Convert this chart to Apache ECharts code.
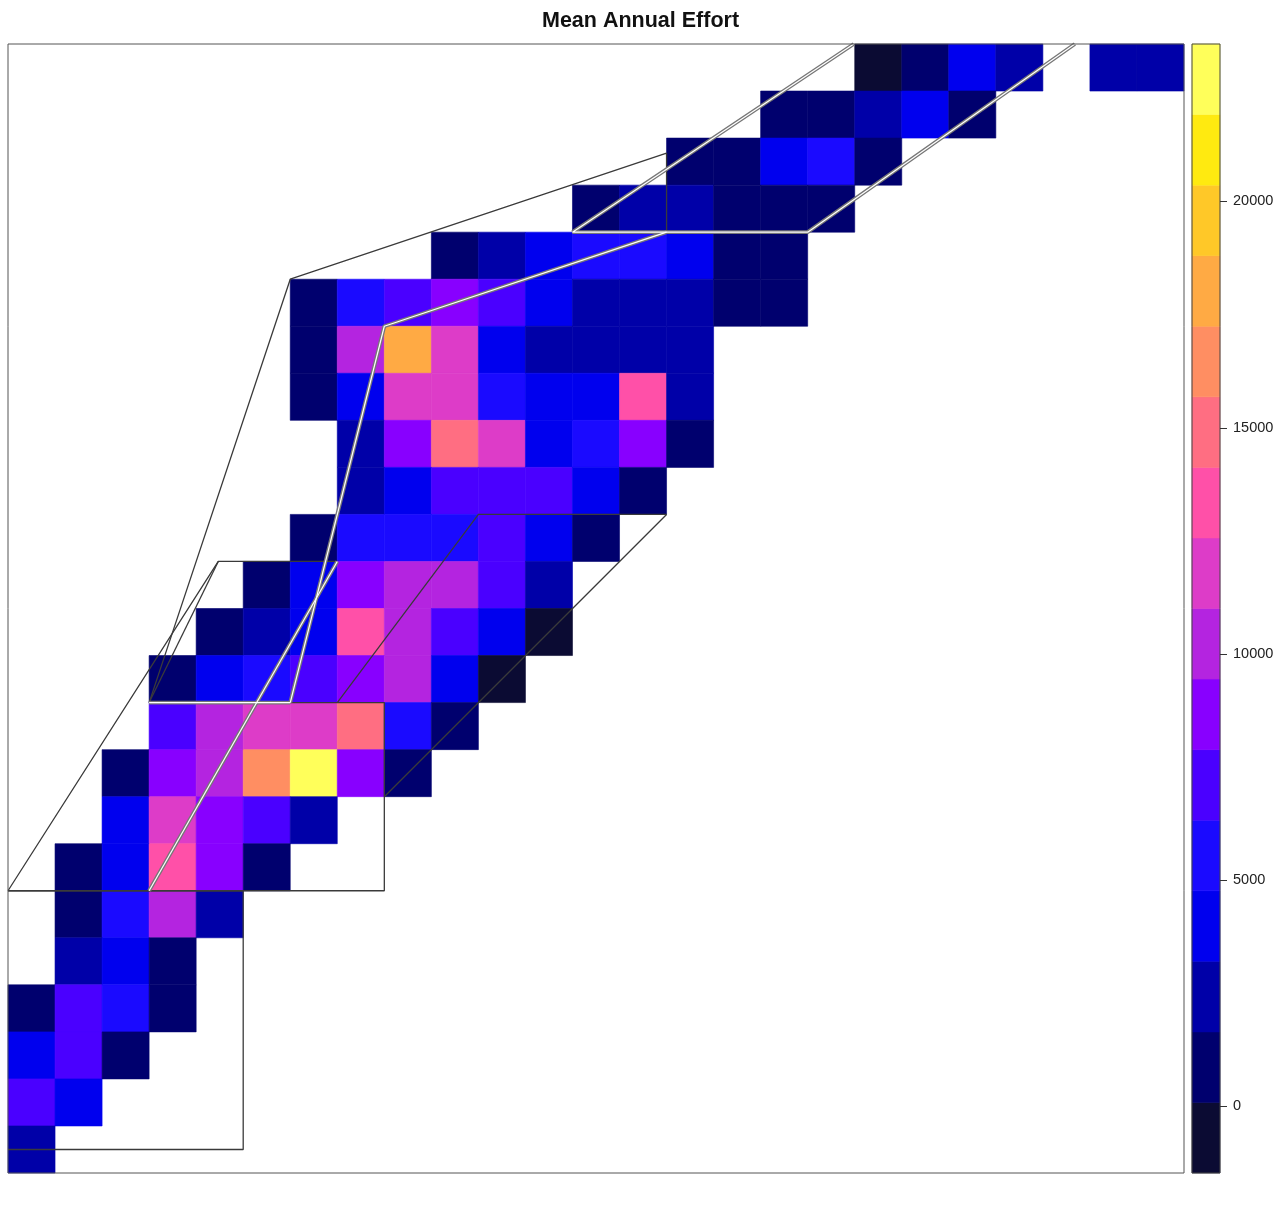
<!DOCTYPE html>
<html><head><meta charset="utf-8">
<script src="https://cdn.jsdelivr.net/npm/echarts@6/dist/echarts.min.js"></script>
<style>html,body{margin:0;padding:0;background:#fff}#c{width:1287px;height:1207px}</style>
</head><body><div id="c"></div>
<script>
const _ = null;
const chartTitle = 'Mean Annual Effort';
const nCols = 25, nRows = 24;
// Mean annual effort per grid cell, rows listed from top to bottom, 25 columns each
const r00 = [_,_,_,_,_,_,_,_,_,_,_,_,_,_,_,_,_,_,40,820,3950,2380,_,2250,2400];
const r01 = [_,_,_,_,_,_,_,_,_,_,_,_,_,_,_,_,700,760,2300,4100,850,_,_,_,_];
const r02 = [_,_,_,_,_,_,_,_,_,_,_,_,_,_,900,780,4300,5200,830,_,_,_,_,_,_];
const r03 = [_,_,_,_,_,_,_,_,_,_,_,_,650,2200,2600,900,870,820,_,_,_,_,_,_,_];
const r04 = [_,_,_,_,_,_,_,_,_,560,2050,4000,5350,5500,4450,800,760,_,_,_,_,_,_,_,_];
const r05 = [_,_,_,_,_,_,720,5300,7000,8700,6900,4200,2500,2450,2350,850,800,_,_,_,_,_,_,_,_];
const r06 = [_,_,_,_,_,_,760,10300,18100,11900,4050,2500,2450,2550,2400,_,_,_,_,_,_,_,_,_,_];
const r07 = [_,_,_,_,_,_,740,3950,11850,12000,5400,4100,4000,13400,2450,_,_,_,_,_,_,_,_,_,_];
const r08 = [_,_,_,_,_,_,_,2300,8600,15000,12200,4000,5300,8800,700,_,_,_,_,_,_,_,_,_,_];
const r09 = [_,_,_,_,_,_,_,2150,4000,7100,7200,7000,4300,780,_,_,_,_,_,_,_,_,_,_,_];
const r10 = [_,_,_,_,_,_,650,5500,5600,5450,7300,4150,780,_,_,_,_,_,_,_,_,_,_,_,_];
const r11 = [_,_,_,_,_,620,4050,8900,10400,10700,7500,2350,_,_,_,_,_,_,_,_,_,_,_,_,_];
const r12 = [_,_,_,_,640,2200,4100,13000,10500,7300,3900,30,_,_,_,_,_,_,_,_,_,_,_,_,_];
const r13 = [_,_,_,700,4000,5200,7200,8800,10400,4200,20,_,_,_,_,_,_,_,_,_,_,_,_,_,_];
const r14 = [_,_,_,7000,10600,11900,12100,15100,5500,800,_,_,_,_,_,_,_,_,_,_,_,_,_,_,_];
const r15 = [_,_,760,8900,10300,16500,23300,8700,820,_,_,_,_,_,_,_,_,_,_,_,_,_,_,_,_];
const r16 = [_,_,4100,12100,8800,7100,2300,_,_,_,_,_,_,_,_,_,_,_,_,_,_,_,_,_,_];
const r17 = [_,720,4000,13500,8600,800,_,_,_,_,_,_,_,_,_,_,_,_,_,_,_,_,_,_,_];
const r18 = [_,680,5300,10300,2300,_,_,_,_,_,_,_,_,_,_,_,_,_,_,_,_,_,_,_,_];
const r19 = [_,2200,4200,760,_,_,_,_,_,_,_,_,_,_,_,_,_,_,_,_,_,_,_,_,_];
const r20 = [700,7000,5400,800,_,_,_,_,_,_,_,_,_,_,_,_,_,_,_,_,_,_,_,_,_];
const r21 = [4000,7100,760,_,_,_,_,_,_,_,_,_,_,_,_,_,_,_,_,_,_,_,_,_,_];
const r22 = [7300,4300,_,_,_,_,_,_,_,_,_,_,_,_,_,_,_,_,_,_,_,_,_,_,_];
const r23 = [2400,_,_,_,_,_,_,_,_,_,_,_,_,_,_,_,_,_,_,_,_,_,_,_,_];
const effortRows = [r00,r01,r02,r03,r04,r05,r06,r07,r08,r09,r10,r11,r12,r13,r14,r15,r16,r17,r18,r19,r20,r21,r22,r23];

// colour scale (16 equal bands)
const bandMin = -1480, bandStep = 1560;
const bandColors = ['#0b0b33','#00006e','#0000a8','#0000ee','#1a0aff','#4a00ff','#8800ff','#b424e0',
  '#dd3cc8','#ff50a8','#ff6e82','#ff8e62','#ffaa44','#ffc828','#ffea10','#ffff5a'];
const tickValues = [0, 5000, 10000, 15000, 20000];

// outline polylines, in grid units (x = column, y = row from top)
const thinLines = [
  [[0,18],[4.47,11],[7,11]],
  [[3,14],[6,5],[14,2.32],[14,4]],
  [[3,14],[8,14],[8,18],[0,18]],
  [[7,14],[10,10],[14,10],[8,16]],
  [[0,18],[5,18],[5,23.5],[0,23.5]],
  [[3,14],[4.47,11]]
];
const doubleLines = [
  [[3,18],[7,11]],
  [[6,14],[8,6],[14,4]],
  [[3,14],[6,14]],
  [[17.98,0],[12,4],[17,4],[22.68,0]]
];

const cells = [];
effortRows.forEach((row, r) => row.forEach((v, c) => { if (v !== null) cells.push([c, r, v]); }));
const bandMax = bandMin + bandColors.length * bandStep;
const pieces = bandColors.map((col, i) => ({gte: bandMin + i * bandStep, lt: bandMin + (i + 1) * bandStep, color: col}));
const bands = bandColors.map((col, i) => [bandMin + i * bandStep, bandMin + (i + 1) * bandStep, i]);

const chart = echarts.init(document.getElementById('c'), null, {renderer: 'canvas'});

function rectBetween(p0, p1) {
  return {x: Math.min(p0[0], p1[0]), y: Math.min(p0[1], p1[1]),
          width: Math.abs(p1[0] - p0[0]), height: Math.abs(p1[1] - p0[1])};
}

const series = [];
series.push({
  type: 'custom', name: 'effort', xAxisIndex: 0, yAxisIndex: 0, data: cells,
  encode: {x: 0, y: 1}, z: 1, silent: true,
  renderItem: function (params, api) {
    const c = api.value(0), r = api.value(1);
    const col = api.visual('color');
    return {type: 'rect', shape: rectBetween(api.coord([c, r]), api.coord([c + 1, r + 1])),
            style: {fill: col, stroke: col, lineWidth: 0.6}};
  }
});
series.push({
  type: 'custom', name: 'colorbar', xAxisIndex: 1, yAxisIndex: 1, data: bands,
  encode: {y: [0, 1]}, z: 1, silent: true,
  renderItem: function (params, api) {
    const lo = api.value(0), hi = api.value(1), i = api.value(2);
    const col = bandColors[i];
    return {type: 'rect', shape: rectBetween(api.coord([0, hi]), api.coord([1, lo])),
            style: {fill: col, stroke: col, lineWidth: 0.6}};
  }
});
// colour-bar tick marks
series.push({
  type: 'custom', name: 'ticks', xAxisIndex: 1, yAxisIndex: 1, data: tickValues.map(v => [1, v]),
  encode: {x: 0, y: 1}, z: 9, silent: true, clip: false,
  renderItem: function (params, api) {
    const p = api.coord([api.value(0), api.value(1)]);
    const y = Math.round(p[1]) + 0.5;
    return {type: 'line', shape: {x1: p[0], y1: y, x2: p[0] + 7, y2: y},
            style: {stroke: '#333', lineWidth: 1}};
  }
});
thinLines.forEach(pl => series.push({
  type: 'line', xAxisIndex: 0, yAxisIndex: 0, data: pl, symbol: 'none', silent: true, z: 4,
  lineStyle: {color: '#3a3a3a', width: 1.3}
}));
doubleLines.forEach(pl => {
  series.push({type: 'line', xAxisIndex: 0, yAxisIndex: 0, data: pl, symbol: 'none', silent: true, z: 5,
    lineStyle: {color: '#777777', width: 3.8}});
  series.push({type: 'line', xAxisIndex: 0, yAxisIndex: 0, data: pl, symbol: 'none', silent: true, z: 6,
    lineStyle: {color: '#ffffff', width: 1.2}});
});
// frames
series.push({type: 'line', xAxisIndex: 0, yAxisIndex: 0, symbol: 'none', silent: true, z: 8, clip: false,
  data: [[0,0],[nCols,0],[nCols,nRows],[0,nRows],[0,0]], lineStyle: {color: '#555', width: 1}});
series.push({type: 'line', xAxisIndex: 1, yAxisIndex: 1, symbol: 'none', silent: true, z: 8, clip: false,
  data: [[0,bandMin],[1,bandMin],[1,bandMax],[0,bandMax],[0,bandMin]], lineStyle: {color: '#444', width: 1}});

const hiddenAxis = {show: false};
chart.setOption({
  animation: false,
  backgroundColor: '#ffffff',
  title: {text: chartTitle, left: 537, top: 5,
    textStyle: {fontFamily: 'Liberation Sans, Arial, sans-serif', fontSize: 21.5, fontWeight: 'bold', color: '#111'}},
  grid: [
    {left: 8, top: 44, width: 1176, height: 1129},
    {left: 1192, top: 44, width: 28, height: 1129}
  ],
  xAxis: [
    Object.assign({type: 'value', gridIndex: 0, min: 0, max: nCols}, hiddenAxis),
    Object.assign({type: 'value', gridIndex: 1, min: 0, max: 1}, hiddenAxis)
  ],
  yAxis: [
    Object.assign({type: 'value', gridIndex: 0, min: 0, max: nRows, inverse: true}, hiddenAxis),
    {type: 'value', gridIndex: 1, min: bandMin, max: bandMax, position: 'right',
      axisLine: {show: false}, splitLine: {show: false}, axisTick: {show: false},
      axisLabel: {show: true, margin: 13, color: '#222', fontSize: 14.5,
        fontFamily: 'Liberation Sans, Arial, sans-serif', customValues: tickValues,
        formatter: function (v) { return String(v); }}}
  ],
  visualMap: {type: 'piecewise', show: false, seriesIndex: 0, dimension: 2, pieces: pieces},
  series: series
});
</script></body></html>
